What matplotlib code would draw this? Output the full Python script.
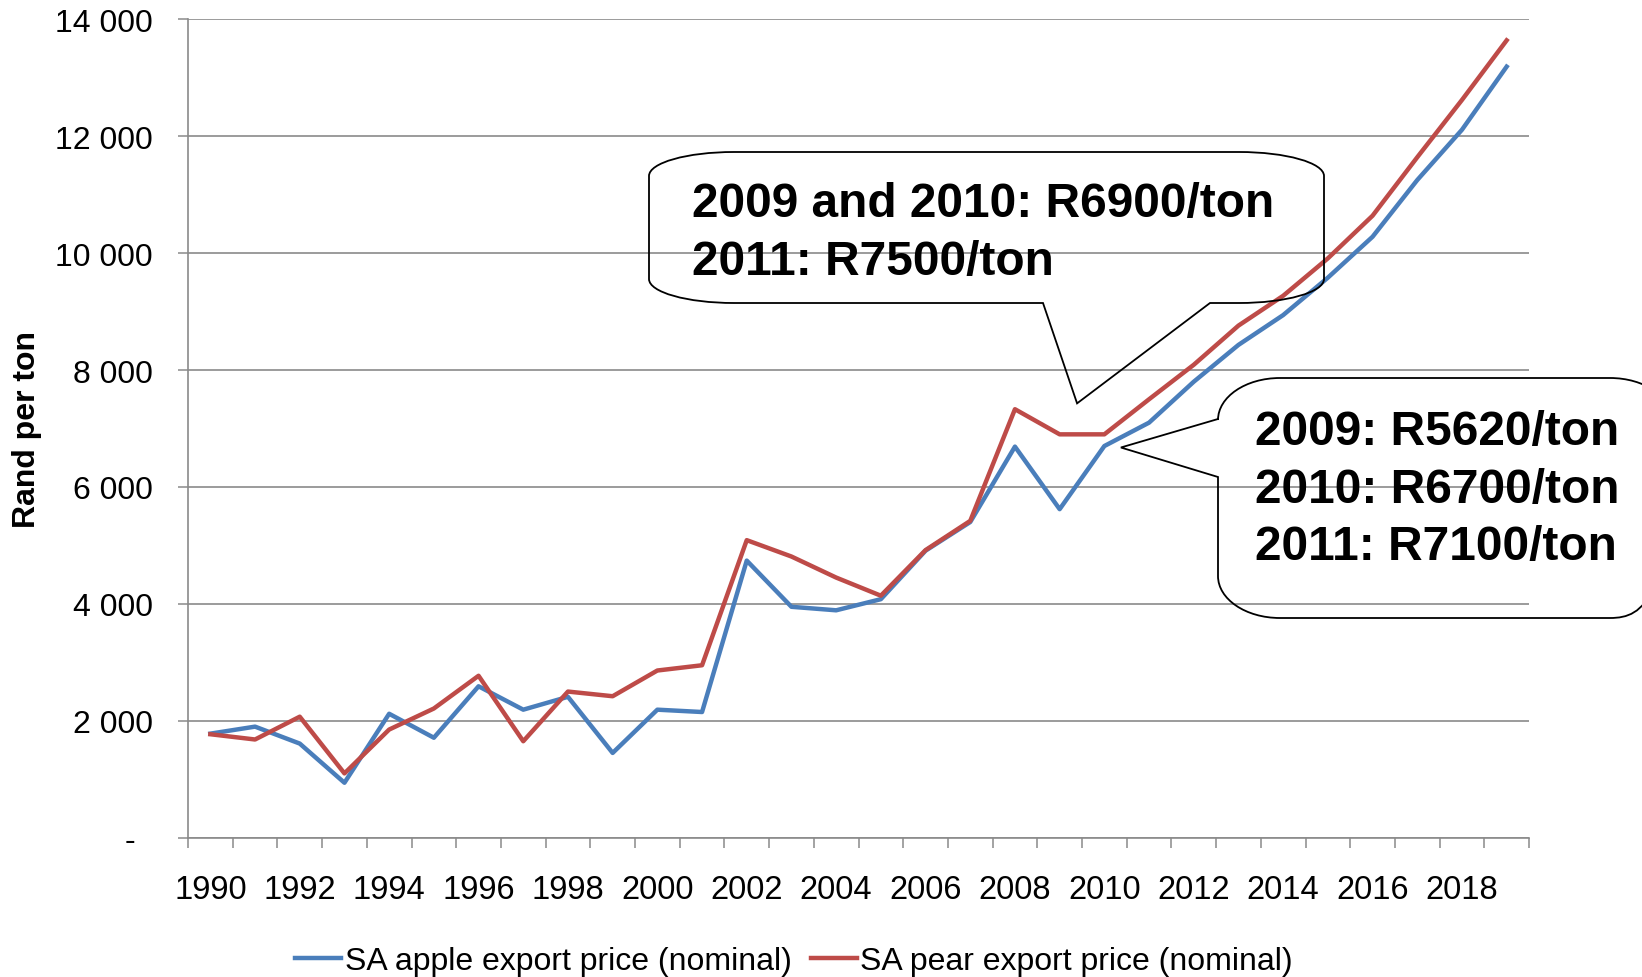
"""SA apple and pear export prices (nominal), Rand per ton, 1990-2019."""

import matplotlib
matplotlib.use("Agg")
import matplotlib.pyplot as plt
from matplotlib.path import Path
from matplotlib.patches import PathPatch
from matplotlib.transforms import Affine2D

plt.rcParams["font.family"] = ["Liberation Sans", "DejaVu Sans"]

# ── Data ──────────────────────────────────────────────────────────────────────
years = list(range(1990, 2020))
apple = [1780, 1900, 1610, 940, 2120, 1710, 2590, 2190, 2410, 1450,
         2190, 2150, 4740, 3950, 3890, 4080, 4910, 5400, 6690, 5620,
         6700, 7100, 7800, 8430, 8940, 9580, 10280, 11250, 12110, 13190]
pear = [1770, 1680, 2070, 1100, 1850, 2210, 2770, 1650, 2500, 2420,
        2860, 2950, 5090, 4810, 4450, 4140, 4920, 5420, 7330, 6900,
        6900, 7500, 8090, 8760, 9270, 9910, 10640, 11640, 12620, 13640]
y_ticks = [0, 2000, 4000, 6000, 8000, 10000, 12000, 14000]

apple_label = "SA apple export price (nominal)"
pear_label = "SA pear export price (nominal)"
pear_note = ["2009 and 2010: R6900/ton", "2011: R7500/ton"]
apple_note = ["2009: R5620/ton", "2010: R6700/ton", "2011: R7100/ton"]

# where the callout tails point (category index, value)
pear_tip = (19.39, 7430)
apple_tip = (20.37, 6675)

BLUE = "#4a7ebb"
RED = "#be4b48"
GRID = "#8a8a8a"

W, H = 1642, 978

# ── Plot ──────────────────────────────────────────────────────────────────────
fig = plt.figure(figsize=(W / 100, H / 100), dpi=100)
ax = fig.add_axes([188 / W, 1 - 838.7 / H, (1529 - 188) / W, (838.7 - 20.3) / H])

x = list(range(len(years)))
ax.plot(x, apple, color=BLUE, lw=3.2, label=apple_label, zorder=3)
ax.plot(x, pear, color=RED, lw=3.2, label=pear_label, zorder=3)

ax.set_xlim(-0.5, len(years) - 0.5)
ax.set_ylim(0, 14000)

ax.set_yticks(y_ticks)
ax.set_yticklabels(["-  " if v == 0 else f"{v:,}".replace(",", " ") for v in y_ticks])
ax.yaxis.grid(True, color=GRID, lw=1.2)
ax.set_axisbelow(True)
ax.tick_params(axis="y", length=7.2, width=1.1, color=GRID, pad=18, labelsize=23)

ax.set_xticks(x[::2])
ax.set_xticklabels([str(y) for y in years[::2]])
ax.set_xticks([i - 0.5 for i in range(len(years) + 1)], minor=True)
ax.tick_params(axis="x", which="major", length=0, pad=26, labelsize=23.5)
ax.tick_params(axis="x", which="minor", length=7.2, width=1.1, color=GRID)

for side in ("top", "right"):
    ax.spines[side].set_visible(False)
for side in ("left", "bottom"):
    ax.spines[side].set_color(GRID)
    ax.spines[side].set_linewidth(1.2)

fig.text(27 / W, 1 - 430 / H, "Rand per ton", rotation=90, ha="center", va="center",
         fontsize=23, fontweight="bold")

fig.legend(loc="center", bbox_to_anchor=(794 / W, 1 - 962 / H), ncol=2, frameon=False,
           fontsize=23, handlelength=1.45, handletextpad=0.1, columnspacing=0.6)

# ── Callouts (pixel coordinates, y measured from the top) ─────────────────────
px = Affine2D().scale(1 / W, -1 / H).translate(0, 1) + fig.transFigure
to_px = ax.transData + px.inverted()
K = 0.5523


def bubble(x0, x1, y0, y1, rx, ry, tip, bottom_tail=None, left_tail=None):
    """Rounded callout; y0 is the top edge, y1 the bottom edge (image coords)."""
    verts = [(x0 + rx, y0), (x1 - rx, y0),
             (x1 - rx + K * rx, y0), (x1, y0 + ry - K * ry), (x1, y0 + ry),
             (x1, y1 - ry),
             (x1, y1 - ry + K * ry), (x1 - rx + K * rx, y1), (x1 - rx, y1)]
    codes = [Path.MOVETO, Path.LINETO,
             Path.CURVE4, Path.CURVE4, Path.CURVE4,
             Path.LINETO,
             Path.CURVE4, Path.CURVE4, Path.CURVE4]
    if bottom_tail:
        a, b = bottom_tail
        verts += [(b, y1), tuple(tip), (a, y1)]
        codes += [Path.LINETO] * 3
    verts += [(x0 + rx, y1),
              (x0 + rx - K * rx, y1), (x0, y1 - ry + K * ry), (x0, y1 - ry)]
    codes += [Path.LINETO, Path.CURVE4, Path.CURVE4, Path.CURVE4]
    if left_tail:
        a, b = left_tail
        verts += [(x0, b), tuple(tip), (x0, a)]
        codes += [Path.LINETO] * 3
    verts += [(x0, y0 + ry),
              (x0, y0 + ry - K * ry), (x0 + rx - K * rx, y0), (x0 + rx, y0),
              (x0 + rx, y0)]
    codes += [Path.LINETO, Path.CURVE4, Path.CURVE4, Path.CURVE4, Path.CLOSEPOLY]
    patch = PathPatch(Path(verts, codes), transform=px, facecolor="none",
                      edgecolor="black", lw=1.3, zorder=5)
    fig.add_artist(patch)


bubble(649, 1324, 153, 304, 85, 24, to_px.transform(pear_tip), bottom_tail=(1043, 1210))
bubble(1218, 1672, 379, 619, 62, 42, to_px.transform(apple_tip), left_tail=(420, 478))

for i, line in enumerate(pear_note):
    fig.text(692, 217 + 58 * i, line, transform=px, fontsize=34.5, fontweight="bold",
             ha="left", va="baseline")
for i, line in enumerate(apple_note):
    fig.text(1255, 445 + 57.5 * i, line, transform=px, fontsize=34.5, fontweight="bold",
             ha="left", va="baseline")

fig.savefig("out.png", dpi=100)
